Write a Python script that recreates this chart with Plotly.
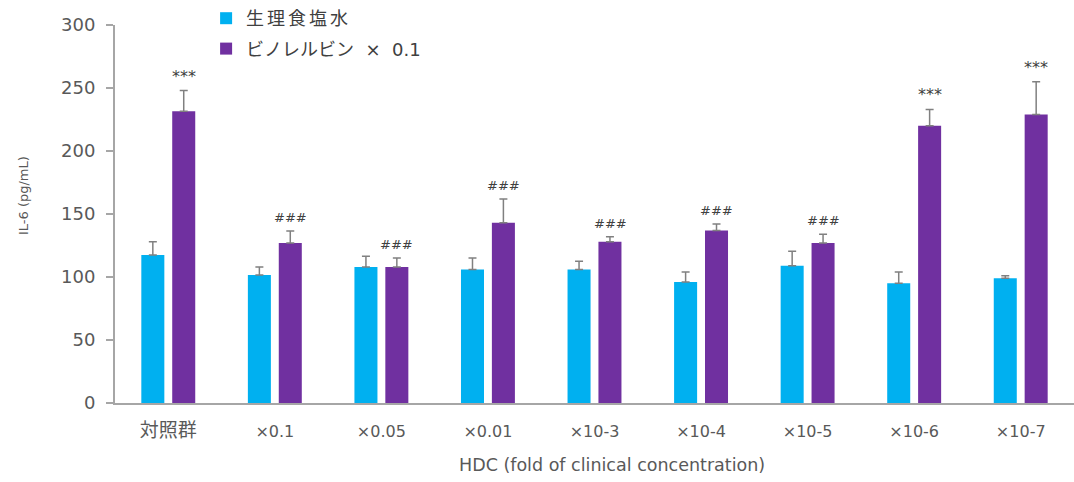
import plotly.graph_objects as go

# Groups along the x axis
categories = ["対照群", "×0.1", "×0.05", "×0.01", "×10-3", "×10-4", "×10-5", "×10-6", "×10-7"]

# IL-6 (pg/mL): mean and upper error (SD)
saline_mean = [117.5, 101.5, 108, 106, 106, 96, 109, 95, 99]
saline_err = [10.5, 6.5, 8.5, 9, 6.5, 8, 11.5, 9, 2]
vino_mean = [231.5, 127, 108, 143, 128, 137, 127, 220, 229]
vino_err = [16.5, 9.5, 7, 19, 4, 5, 7, 13, 26]

# Significance marks above the vinorelbine bars
marks = ["***", "###", "###", "###", "###", "###", "###", "***", "***"]

y_ticks = [0, 50, 100, 150, 200, 250, 300]

BLUE = "#00B0F0"
PURPLE = "#7030A0"
GREY_TXT = "#595959"
FONT = "DejaVu Sans, Noto Sans CJK JP, sans-serif"

fig = go.Figure()

fig.add_trace(go.Bar(
    x=categories, y=saline_mean, name="<span style='letter-spacing:3px'>生理食塩水</span>",
    marker=dict(color=BLUE, line=dict(width=0)),
    error_y=dict(type="data", array=saline_err, arrayminus=[0] * len(saline_err),
                 symmetric=False, color="#808080", thickness=1.5, width=4),
    legendgroup="a",
))
fig.add_trace(go.Bar(
    x=categories, y=vino_mean, name="ビノレルビン  ×  0.1",
    marker=dict(color=PURPLE, line=dict(width=0)),
    error_y=dict(type="data", array=vino_err, arrayminus=[0] * len(vino_err),
                 symmetric=False, color="#808080", thickness=1.5, width=4),
    legendgroup="b",
))

for cat, m, e, t in zip(categories, vino_mean, vino_err, marks):
    fig.add_annotation(
        x=cat, y=m + e, text=t, showarrow=False,
        xshift=15.5, yshift=3 if t == "***" else 4, yanchor="bottom",
        font=dict(family=FONT, size=16 if t == "***" else 13, color="#404040"),
    )

# Axis titles as free text
fig.add_annotation(
    xref="paper", yref="paper", x=-0.096, y=0.55,
    text="IL-6 (pg/mL)", textangle=-90, showarrow=False,
    xanchor="center", yanchor="middle",
    font=dict(family=FONT, size=13, color=GREY_TXT),
)
fig.add_annotation(
    xref="paper", yref="paper", x=0.518, y=-0.165,
    text="HDC (fold of clinical concentration)", showarrow=False,
    xanchor="center", yanchor="middle",
    font=dict(family=FONT, size=17.5, color=GREY_TXT),
)

tick_text = [f"<span style='font-size:19px'>{c}</span>" if c == "対照群" else c for c in categories]

fig.update_layout(
    width=1074, height=482,
    margin=dict(l=115, r=0, t=25, b=79, autoexpand=False),
    paper_bgcolor="white", plot_bgcolor="white",
    font=dict(family=FONT, color=GREY_TXT, size=15),
    barmode="group", bargap=0.42, bargroupgap=0.255,
    showlegend=True,
    legend=dict(
        x=0.095, y=1.014, xanchor="left", yanchor="top", yref="container",
        font=dict(family=FONT, size=18, color="#404040"),
        traceorder="grouped", tracegroupgap=4,
        itemwidth=30, bgcolor="rgba(0,0,0,0)",
    ),
    xaxis=dict(
        type="category", range=[-0.5, 8.5],
        tickmode="array", tickvals=categories, ticktext=tick_text,
        showline=True, linecolor="#A6A6A6", linewidth=2,
        ticks="outside", ticklen=13, tickcolor="rgba(0,0,0,0)",
        tickfont=dict(family=FONT, size=16, color=GREY_TXT),
        showgrid=False, zeroline=False,
        automargin=False,
    ),
    yaxis=dict(
        range=[0, 300], tickvals=y_ticks,
        showline=True, linecolor="#A6A6A6", linewidth=2,
        ticks="outside", ticklen=7, tickcolor="#A6A6A6", tickwidth=1.5,
        tickfont=dict(family=FONT, size=18, color=GREY_TXT),
        ticklabelstandoff=7,
        showgrid=False, zeroline=False,
        automargin=False,
    ),
)

fig.write_html("out.html")
